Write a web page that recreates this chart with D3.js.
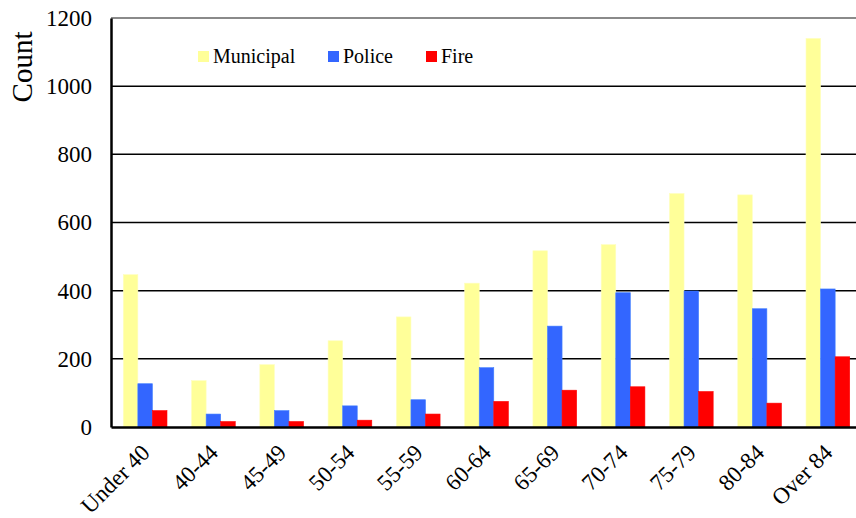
<!DOCTYPE html>
<html>
<head>
<meta charset="utf-8">
<script src="https://cdn.jsdelivr.net/npm/d3@7"></script>
<style>
  html, body { margin: 0; padding: 0; background: #fff; }
  svg { display: block; }
  svg text { font-family: "Liberation Serif", "Times New Roman", serif !important; fill: #000; }
</style>
</head>
<body>
<div id="chart"></div>
<script>
// age groups along the x axis
const categories = ["Under 40", "40-44", "45-49", "50-54", "55-59", "60-64", "65-69", "70-74", "75-79", "80-84", "Over 84"];
const seriesNames = ["Municipal", "Police", "Fire"];
const municipal = [447, 136, 183, 253, 323, 422, 517, 535, 685, 681, 1140];
const police = [127, 38, 48, 62, 80, 174, 296, 394, 399, 347, 405];
const fire = [48, 16, 16, 20, 38, 75, 108, 118, 104, 70, 206];
const yTicks = [0, 200, 400, 600, 800, 1000, 1200];
const colors = ["#ffff99", "#3366ff", "#ff0000"];

const width = 856;
const height = 518;
const margin = { top: 18, right: -6, bottom: 91, left: 111 };

const values = [municipal, police, fire];
const rows = categories.map((c, i) => ({
    cat: c,
    vals: seriesNames.map((s, j) => ({ key: s, value: values[j][i] }))
}));

const x0 = d3.scaleBand()
    .domain(categories)
    .range([margin.left, width - margin.right])
    .padding(0);

const x1 = d3.scaleBand()
    .domain(seriesNames)
    .range([x0.bandwidth() * 0.18, x0.bandwidth() * 0.82]);

const y = d3.scaleLinear()
    .domain([0, 1200])
    .range([height - margin.bottom, margin.top]);

const color = d3.scaleOrdinal().domain(seriesNames).range(colors);

const svg = d3.select("#chart")
    .append("svg")
    .attr("width", width)
    .attr("height", height);

// gridlines (top one is grey)
svg.append("g")
    .selectAll("line")
    .data(yTicks.filter(d => d > 0))
    .join("line")
    .attr("x1", margin.left)
    .attr("x2", width)
    .attr("y1", d => y(d))
    .attr("y2", d => y(d))
    .attr("stroke", d => d === 1200 ? "#8a8a8a" : "#000")
    .attr("stroke-width", d => d === 1200 ? 2 : 1.5);

// bars
svg.append("g")
    .selectAll("g")
    .data(rows)
    .join("g")
    .attr("transform", d => `translate(${x0(d.cat)},0)`)
    .selectAll("rect")
    .data(d => d.vals)
    .join("rect")
    .attr("x", d => x1(d.key))
    .attr("y", d => y(d.value))
    .attr("width", x1.bandwidth())
    .attr("height", d => y(0) - y(d.value))
    .attr("fill", d => color(d.key))
    .attr("stroke", d => d3.color(color(d.key)).brighter(0.6))
    .attr("stroke-width", 0.6);

// y axis
const yAxis = svg.append("g")
    .attr("transform", `translate(${margin.left},0)`)
    .call(d3.axisLeft(y).tickValues(yTicks).tickFormat(d3.format("d")).tickSize(0).tickPadding(19));
yAxis.select(".domain").attr("stroke", "#000").attr("stroke-width", 2.5);
yAxis.selectAll("text")
    .attr("font-size", 23);

// x axis
const xAxis = svg.append("g")
    .attr("transform", `translate(0,${y(0)})`)
    .call(d3.axisBottom(x0).tickSize(0).tickFormat(""));
xAxis.select(".domain").attr("stroke", "#000").attr("stroke-width", 2.5);

svg.append("g")
    .selectAll("text")
    .data(categories)
    .join("text")
    .attr("transform", d => `translate(${x0(d) + x0.bandwidth() / 2 + 6},${y(0) + 27}) rotate(-45)`)
    .attr("text-anchor", "end")
    .attr("font-size", 23)
    .text(d => d);

// y label
svg.append("text")
    .attr("transform", `translate(32,67) rotate(-90)`)
    .attr("text-anchor", "middle")
    .attr("font-size", 29)
    .text("Count");

// legend
const legendX = [198, 328, 426];
const legend = svg.append("g")
    .selectAll("g")
    .data(seriesNames)
    .join("g")
    .attr("transform", (d, i) => `translate(${legendX[i]},51)`);
legend.append("rect")
    .attr("width", 11)
    .attr("height", 11)
    .attr("fill", d => color(d));
legend.append("text")
    .attr("x", 15)
    .attr("y", 12)
    .attr("font-size", 20)
    .text(d => d);
</script>
</body>
</html>
